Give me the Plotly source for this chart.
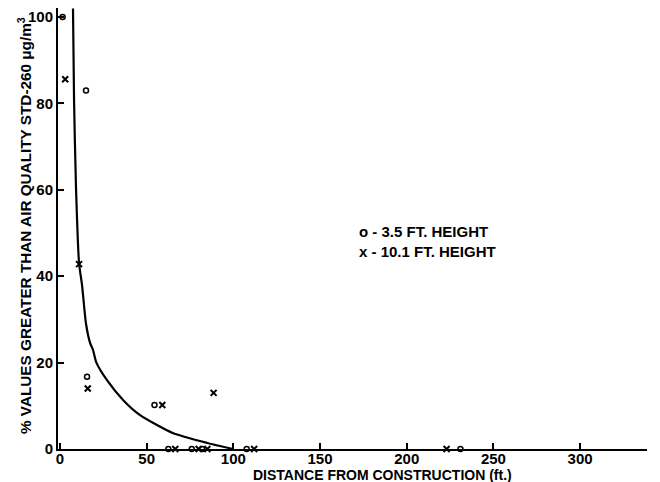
import plotly.graph_objects as go

# Data
low_x = [1.5, 15, 15.6, 54.5, 62.5, 76, 82, 107.7, 231]
low_y = [100, 83, 16.7, 10.2, 0, 0, 0, 0, 0]
high_x = [3, 11, 16, 59, 88.6, 66.5, 80, 85, 112, 223]
high_y = [85.6, 42.8, 14, 10.2, 13, 0, 0, 0, 0, 0]
curve_x = [7.5, 8.1, 9.2, 11, 12.7, 15, 17.4, 19, 21, 27, 36.5, 46, 65, 85, 100]
curve_y = [102, 81, 61, 43, 38, 29, 24.5, 23, 20, 16, 11.3, 7.9, 3.7, 1.4, 0]
x_ticks = [0, 50, 100, 150, 200, 250, 300]
y_ticks = [0, 20, 40, 60, 80, 100]

FONT = "Liberation Sans"
# page body has an 8px margin; layout is sized so the plot lands where the reference has it
PW, PH = 589, 441  # plot area in px


def px(page_x):
    return (page_x - 58) / PW


def py(page_y):
    return (449 - page_y) / PH


fig = go.Figure()
fig.add_trace(go.Scatter(x=curve_x, y=curve_y, mode="lines",
                         line=dict(color="black", width=2.2, shape="spline", smoothing=0.6),
                         showlegend=False, hoverinfo="skip"))
fig.add_trace(go.Scatter(x=low_x, y=low_y, mode="markers",
                         marker=dict(symbol="circle-open", size=5, color="black", line=dict(width=1.5)),
                         showlegend=False, cliponaxis=False))
fig.add_trace(go.Scatter(x=high_x, y=high_y, mode="markers",
                         marker=dict(symbol="x-thin-open", size=6, color="black", line=dict(width=2, color="black")),
                         showlegend=False, cliponaxis=False))

fig.update_layout(
    width=652, height=474,
    margin=dict(l=50, r=13, t=0, b=33),
    paper_bgcolor="white", plot_bgcolor="white",
    font=dict(family=FONT, color="black"),
    xaxis=dict(range=[-1.15, 338.6], tickvals=x_ticks, ticks="inside", ticklen=6, tickwidth=1.5,
               tickcolor="black", showline=True, linecolor="black", linewidth=2,
               showgrid=False, zeroline=False,
               tickfont=dict(size=15, family=FONT, weight="bold"), ticklabelstandoff=-5),
    yaxis=dict(range=[0, 102.1], tickvals=y_ticks, ticks="inside", ticklen=6, tickwidth=1.5,
               tickcolor="black", showline=True, linecolor="black", linewidth=2,
               showgrid=False, zeroline=False,
               tickfont=dict(size=15, family=FONT, weight="bold"), ticklabelstandoff=0),
    annotations=[
        dict(text="DISTANCE FROM CONSTRUCTION (ft.)", xref="paper", yref="paper",
             x=px(382), y=py(475), xanchor="center", yanchor="middle", showarrow=False,
             font=dict(size=14, family=FONT, weight="bold")),
        dict(text="% VALUES GREATER THAN AIR QUALITY STD-260 \u03bcg/m<sup>3</sup>", xref="paper", yref="paper",
             x=px(25), y=py(226), xanchor="center", yanchor="middle", textangle=-90, showarrow=False,
             font=dict(size=15.3, family=FONT, weight="bold")),
        dict(text="o - 3.5 FT. HEIGHT<br>x - 10.1 FT. HEIGHT", xref="paper", yref="paper",
             x=px(357), y=py(242), xanchor="left", yanchor="middle", align="left",
             showarrow=False, font=dict(size=15, family=FONT, weight="bold")),
    ],
)

fig.write_html("out.html")
